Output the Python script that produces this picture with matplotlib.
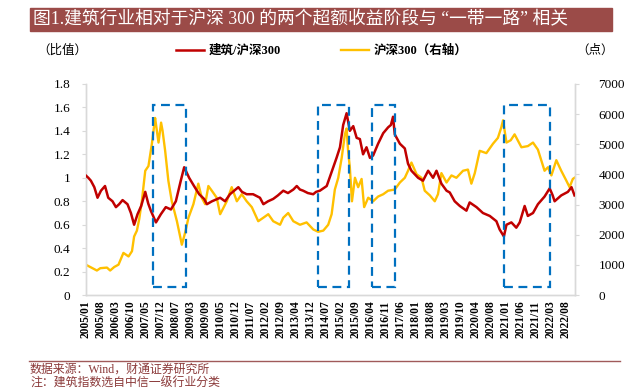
import numpy as np
import matplotlib
matplotlib.use("Agg")
import matplotlib.pyplot as plt
from matplotlib.patches import Rectangle

plt.rcParams['font.family'] = ['Liberation Serif', 'Noto Sans CJK SC']

# months since 2005/01
red_t = [0, 1.2, 2.4, 4.0, 5.5, 7.1, 9.0, 10.5, 12.5, 14.1, 15.6, 17.2, 19.5, 21.1, 22.6,
         24.2, 25.9, 27.8, 29.2, 30.4, 32.8, 35.1, 37.4, 39.8, 42.1, 44.4, 46.0, 48.3, 50.6,
         53.0, 55.3, 56.6, 59.0, 62.8, 65.1, 67.4, 71.3, 73.0, 75.2, 78.2, 81.4, 83.0, 85.2,
         87.6, 89.8, 92.3, 94.5, 97.0, 98.6, 100.1, 101.6, 103.8, 106.3, 107.6, 109.4, 112.6,
         114.9, 117.2, 118.8, 120.3, 121.9, 123.4, 125.0, 126.6, 128.1, 129.6, 131.2, 132.8,
         134.3, 136.6, 139.0, 141.3, 142.6, 143.6, 144.4, 146.8, 149.1, 150.6, 152.2, 155.3,
         157.6, 160.0, 162.3, 163.9, 166.2, 168.6, 170.1, 172.4, 174.8, 177.9, 179.4, 182.6,
         185.6, 188.8, 191.9, 193.4, 195.4, 196.6, 198.9, 201.2, 202.8, 205.1, 206.6, 209.0,
         211.3, 214.4, 216.8, 218.2, 219.1, 222.2, 225.3, 227.0, 228.4]
ratio = [1.02, 1.00, 0.975, 0.92, 0.83, 0.89, 0.93, 0.83, 0.80, 0.75, 0.775, 0.81, 0.775, 0.70,
         0.60, 0.69, 0.76, 0.88, 0.78, 0.72, 0.62, 0.69, 0.75, 0.73, 0.80, 0.975, 1.09, 1.00,
         0.93, 0.86, 0.82, 0.775, 0.80, 0.83, 0.80, 0.86, 0.92, 0.88, 0.86, 0.86, 0.83, 0.775,
         0.80, 0.82, 0.85, 0.89, 0.87, 0.90, 0.93, 0.90, 0.89, 0.87, 0.86, 0.88, 0.89, 0.93,
         1.05, 1.17, 1.26, 1.45, 1.55, 1.40, 1.44, 1.34, 1.33, 1.20, 1.26, 1.17, 1.19, 1.29,
         1.38, 1.43, 1.45, 1.52, 1.37, 1.29, 1.25, 1.12, 1.06, 1.00, 0.975, 1.06, 1.00, 1.06,
         0.95, 0.89, 0.875, 0.80, 0.76, 0.72, 0.79, 0.75, 0.70, 0.675, 0.63, 0.56, 0.50, 0.60,
         0.62, 0.575, 0.62, 0.76, 0.675, 0.70, 0.775, 0.84, 0.91, 0.85, 0.80, 0.85, 0.88,
         0.92, 0.85]

hs_t = [0, 2.1, 5.2, 6.8, 9.9, 11.4, 13.3, 15.3, 17.6, 20.0, 21.6, 22.6, 23.9, 25.0, 26.2,
        27.8, 29.3, 30.9, 32.0, 32.4, 34.0, 35.2, 35.9, 37.1, 38.6, 40.2, 42.6, 44.1, 44.9,
        46.4, 48.0, 50.3, 52.6, 54.2, 55.8, 57.3, 58.9, 61.2, 62.8, 65.9, 68.2, 70.6, 72.9,
        75.2, 77.6, 80.6, 83.0, 85.3, 87.6, 90.8, 92.3, 94.6, 97.0, 100.1, 103.2, 106.3,
        108.6, 111.0, 113.3, 114.9, 116.4, 118.0, 119.6, 121.1, 121.9, 122.6, 123.4, 124.4,
        125.8, 127.3, 128.9, 130.1, 132.0, 134.3, 136.6, 139.0, 141.3, 144.4, 146.8, 149.1,
        150.6, 152.2, 154.6, 156.9, 158.4, 160.8, 163.1, 164.6, 166.2, 168.6, 170.9, 173.2,
        176.3, 178.6, 180.2, 181.8, 184.1, 187.2, 190.3, 192.6, 194.2, 195.0, 196.6, 198.6,
        200.4, 203.6, 206.6, 209.0, 211.3, 214.4, 216.0, 217.6, 219.9, 222.2, 224.6, 226.1,
        227.6, 228.4]
hs300 = [1011, 933, 817, 894, 914, 817, 933, 1011, 1400, 1283, 1458, 1944, 2139, 2528, 3111,
         4122, 4278, 5017, 5639, 5872, 5056, 5717, 5444, 4783, 3792, 3111, 2450, 1944, 1672,
         2061, 2567, 3014, 3694, 3228, 3014, 3617, 3461, 3228, 2683, 3111, 3578, 3111, 3344,
         3111, 2917, 2450, 2567, 2683, 2450, 2333, 2567, 2722, 2450, 2333, 2411, 2178, 2100,
         2139, 2333, 2683, 3500, 3889, 4550, 5328, 5522, 4783, 4239, 3111, 3889, 3578, 3850,
         2917, 3228, 3111, 3267, 3344, 3461, 3500, 3733, 3889, 4122, 4394, 4006, 3889, 3461,
         3306, 3111, 3344, 4044, 3733, 3967, 3889, 4122, 4161, 3694, 4044, 4783, 4706, 5017,
         5211, 5561, 5794, 5056, 5133, 5328, 4900, 4939, 5056, 4822, 4122, 4239, 3967, 4472,
         4122, 3792, 3578, 3850, 3889]

tick_labels = ['2005/01', '2005/08', '2006/03', '2006/10', '2007/05', '2007/12', '2008/07',
               '2009/03', '2009/09', '2010/05', '2010/12', '2011/07', '2012/02', '2012/09',
               '2013/04', '2013/12', '2014/07', '2015/02', '2015/09', '2016/04', '2016/11',
               '2017/06', '2018/01', '2018/08', '2019/03', '2019/10', '2020/04', '2020/08',
               '2021/01', '2021/06', '2021/11', '2022/03', '2022/08']
tick_t = [7 * i for i in range(len(tick_labels))]

# excess-return windows (start, end) in months, box height on left axis
boxes = [(31.6, 46.8), (108.4, 122.8), (133.8, 144.4), (195.4, 216.8)]
box_low, box_high = 0.07, 1.62

red = '#C00000'
gold = '#FFC000'
blue = '#0070C0'
grey = '#D9D9D9'
title_bg = '#9B4B48'
note_color = '#8B3A3A'

fig = plt.figure(figsize=(6.4, 3.92), dpi=100)
ax = fig.add_axes([0.134, 0.247, 0.764, 0.539])
ax2 = ax.twinx()

l1, = ax.plot(red_t, ratio, color=red, lw=1.8, zorder=3)
l2, = ax2.plot(hs_t, hs300, color=gold, lw=1.7, zorder=2)
ax.set_zorder(ax2.get_zorder() + 1)
ax.patch.set_visible(False)

for s, e in boxes:
    ax.add_patch(Rectangle((s, box_low), e - s, box_high - box_low, fill=False,
                           ec=blue, lw=1.6, ls=(0, (4, 2.5)), zorder=4))

ax.set_xlim(0, 228.5)
ax.set_ylim(0, 1.8)
ax2.set_ylim(0, 7000)
ax.set_yticks(np.arange(0, 1.81, 0.2))
ax.set_yticklabels(['0', '0.2', '0.4', '0.6', '0.8', '1', '1.2', '1.4', '1.6', '1.8'])
ax2.set_yticks(range(0, 7001, 1000))
ax.set_xticks(tick_t)
ax.set_xticklabels(tick_labels, rotation=90, fontsize=8.3, fontweight='bold')

for a in (ax, ax2):
    a.spines['top'].set_visible(False)
    for side in ['left', 'right', 'bottom']:
        a.spines[side].set_color(grey)
        a.spines[side].set_linewidth(1.0)
    a.tick_params(axis='y', length=3, color=grey, labelsize=9.5, pad=8)
ax.tick_params(axis='x', length=0, pad=4)
ax2.tick_params(axis='y', pad=14)

# title bar
fig.patches.append(Rectangle((30 / 640, 1 - 31 / 392), 582 / 640, 23 / 392,
                             transform=fig.transFigure, color=title_bg, zorder=0))
fig.text(33 / 640, 1 - 19.5 / 392, '图1.建筑行业相对于沪深 300 的两个超额收益阶段与 “一带一路” 相关',
         color='white', fontsize=12.8, va='center', ha='left')

fig.text(62 / 640, 1 - 51 / 392, '（比值）', fontsize=9, va='center', ha='center')
fig.text(595 / 640, 1 - 51 / 392, '（点）', fontsize=9, va='center', ha='center')
fig.legend([l1, l2], ['建筑/沪深300', '沪深300（右轴）'], loc='center',
           bbox_to_anchor=(0.503, 1 - 51 / 392), ncol=2, frameon=False,
           handlelength=2.2, handletextpad=0.4, columnspacing=4.8,
           prop={'size': 9, 'weight': 'bold'})

# footer
fig.add_artist(plt.Line2D([29 / 640, 620 / 640], [1 - 361 / 392] * 2,
                          color='#A05A5A', lw=1.0))
fig.text(30 / 640, 1 - 370 / 392, '数据来源：Wind，财通证券研究所', color=note_color,
         fontsize=8.6, va='center', ha='left')
fig.text(30 / 640, 1 - 384 / 392, '注：建筑指数选自中信一级行业分类', color=note_color,
         fontsize=8.6, va='center', ha='left')

fig.savefig('out.png', dpi=100)
